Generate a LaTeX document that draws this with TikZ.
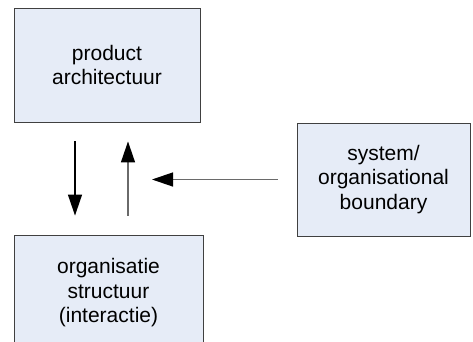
\documentclass[tikz,border=0pt]{standalone}
\usepackage{fontspec}
\setmainfont{Liberation Sans}
\usetikzlibrary{arrows.meta}
\definecolor{boxfill}{HTML}{E6ECF7}
\definecolor{boxline}{HTML}{404040}
\definecolor{flowgray}{HTML}{6A6A6A}
\begin{document}
\begin{tikzpicture}[x=1pt,y=-1pt,
    blok/.style={draw=boxline,fill=boxfill,line width=0.9pt,align=center,
      font=\fontsize{21}{24.5}\selectfont,inner sep=0pt},
    flow/.style={line width=1.3pt,-{Triangle[length=21pt,width=14pt,color=black]},
      shorten <=19pt,shorten >=19pt}]
            \useasboundingbox (0,0) rectangle (473,342);
            \node[blok,minimum width=186pt,minimum height=114pt] (prod) at (107,65) {product\\architectuur};
            \node[blok,minimum width=189pt,minimum height=116pt] (org) at (108.5,293) {organisatie\\structuur\\(interactie)};
            \node[blok,minimum width=173pt,minimum height=113pt] (bound) at (383.5,179.5) {system/\\organisational\\boundary};
            \coordinate (hit) at (152,179.5);

            \draw[flow,black] ([xshift=-32pt]prod.south) -- ([xshift=-32pt]prod.south |- org.north);
            \draw[flow,flowgray] ([xshift=21pt]prod.south |- org.north) -- ([xshift=21pt]prod.south);
            \draw[flow,flowgray,shorten >=0pt] (bound.west) -- (hit);
        \end{tikzpicture}
\end{document}
